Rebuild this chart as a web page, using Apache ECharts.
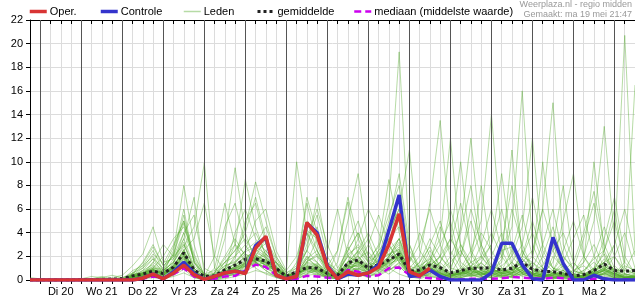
<!DOCTYPE html>
<html><head><meta charset="utf-8">
<script src="https://cdn.jsdelivr.net/npm/echarts@6/dist/echarts.min.js"></script>
<style>html,body{margin:0;padding:0;background:#fff}#c{width:635px;height:300px}</style>
</head><body><div id="c"></div>
<script>
// time steps: every 6 hours, starting ma 19 mei 18:00
const stepHours = 6;
const dayLabels = ['Di 20','Wo 21','Do 22','Vr 23','Za 24','Zo 25','Ma 26','Di 27','Wo 28','Do 29','Vr 30','Za 31','Zo 1','Ma 2'];
const yTicks = [0,2,4,6,8,10,12,14,16,18,20,22];

const oper = [0,0,0,0,0,0,0,0,0,0, 0,0.15,0.5,0.1,0.6,1.25,0.45,0.05,0.3,0.6, 0.75,0.55,2.7,3.7,0.4,0.1,0.3,4.85,3.8,1.1, 0.1,0.7,0.4,0.6,1.1,3.0,5.6,0.7,0.35,1.0];
const controle = [0,0,0,0,0,0,0,0,0,0, 0,0.15,0.5,0.1,0.7,1.5,0.55,0.05,0.3,0.6, 0.75,0.6,2.9,3.6,0.4,0.1,0.3,4.8,4.0,1.2, 0.1,0.5,0.4,0.6,1.3,4.2,7.2,0.3,0.4,0.85, 0.3,0,0,0,0,0.6,3.1,3.1,1.3,0.1, 0,3.6,1.4,0,0,0.4,0.1,0,0,0];
const gemiddelde = [0,0,0,0,0,0.02,0.03,0.05,0.08,0.1, 0.35,0.5,0.75,0.55,1.1,2.3,0.85,0.3,0.35,0.85, 1.25,1.75,1.8,1.6,1.0,0.3,0.7,1.05,1.0,0.55, 0.4,1.45,1.7,1.0,1.3,1.7,2.2,0.75,0.85,1.27, 1.05,0.6,0.8,1.0,1.0,1.05,0.85,1.0,1.5,0.9, 0.75,0.7,0.55,0.35,0.45,0.8,1.35,0.8,0.75,0.8];
const mediaan = [0,0,0,0,0,0,0,0,0,0, 0,0.1,0.3,0.2,0.5,1.0,0.3,0.05,0.1,0.3, 0.35,0.8,1.3,1.1,0.4,0.05,0.1,0.35,0.3,0.2, 0.1,0.85,0.7,0.3,0.4,1.0,1.05,0.45,0.25,0.15, 0.1,0.05,0.05,0.1,0.1,0.1,0.15,0.25,0.2,0.15, 0.1,0.2,0.15,0.05,0.05,0.1,0.1,0.05,0.05,0.05];

const leden = [
[0,0,0,0,0,0,0,0,0,0, 0.2,0.4,0.6,0.1,0.8,1.6,0.5,0,0.2,0.7, 0.9,0.6,2.4,3.1,0.6,0.1,0.4,4.2,3.5,1.0, 0.2,0.8,0.6,0.5,1.2,3.5,5.0,0.6,0.4,1.1, 0.5,0.1,0.3,0.8,0.4,0.6,2.5,2.8,1.0,0.2, 0.1,2.0,1.1,0.2,0.1,0.3,0.5,0.2,0,0.1],
[0,0,0,0,0,0,0,0,0.1,0.2, 0.6,1.0,1.8,0.5,2.5,8.0,3.0,0.2,0.1,0.5, 1.2,2.0,1.5,0.8,0.3,0,0.2,1.5,2.2,0.8, 0.3,2.5,4.0,1.5,0.6,1.2,2.0,0.3,0.8,2.5, 1.2,0.4,0.2,0.5,1.5,0.6,0.2,0.3,0.8,0.5, 0.2,0.1,0.4,0.8,1.2,0.5,0.2,0,0,0.2],
[0.2,0.1,0,0,0,0,0,0,0,0, 0.2,0.3,0.5,0.8,1.5,2.8,4.5,9.9,1.0,0.3, 0.5,1.2,2.5,1.8,0.5,0.2,0.6,1.0,0.8,0.3, 0.1,0.5,1.2,0.6,2.2,3.0,1.5,0.4,0.2,0.6, 0.8,1.5,2.5,1.0,0.3,0.2,0.5,1.2,0.6,0.4, 1.0,0.6,0.3,0.1,0.2,0.8,1.5,0.6,0.2,0.1],
[0,0,0,0,0,0,0.1,0.3,0.1,0, 0,0.1,0.4,0.2,0.6,1.2,0.3,0,0.5,3.5, 9.5,4.0,1.5,0.8,0.2,0,0.1,0.5,1.2,0.6, 0.2,1.0,2.2,3.5,1.0,0.5,1.2,0.3,0.1,0.4, 0.2,0,0.5,1.5,2.0,0.8,0.3,0.2,0.6,1.5, 0.8,0.3,0.1,0,0,0.2,0.6,1.0,0.3,0.1],
[0,0,0,0,0,0,0,0,0,0, 0.5,1.2,2.0,0.8,1.0,2.5,0.6,0.1,0.2,1.0, 3.0,8.5,4.5,2.0,0.8,0.2,0.3,1.2,0.8,0.2, 0.1,0.3,0.5,0.2,0.8,1.5,2.5,1.0,0.5,0.3, 0.1,0,0.2,0.4,0.2,1.2,0.8,0.4,2.5,1.0, 0.3,0.2,0.5,0.3,0.8,1.5,0.6,0.2,0,0],
[0,0,0,0,0,0,0,0,0,0, 0.1,0.3,0.8,0.4,1.2,2.0,0.5,0,0.1,0.4, 0.6,1.5,2.0,3.5,1.5,0.8,10.0,4.0,2.5,0.5, 0.3,1.2,0.8,0.4,0.6,1.0,1.8,0.6,1.5,2.8, 1.0,0.5,0.8,0.3,0.6,0.2,0.4,0.8,1.2,0.6, 0.4,0.1,0.2,0.5,0.3,0.6,1.8,0.8,0.2,0.3],
[0,0,0,0,0,0,0,0,0,0, 0,0.2,0.5,0.3,0.5,1.5,0.4,0,0,0.3, 0.5,0.8,1.2,1.5,0.6,0.1,0.3,2.0,1.5,0.4, 0.2,1.5,2.0,1.0,2.5,6.5,19.3,3.0,0.5,1.0, 0.6,0.2,0.4,0.8,0.5,0.3,0.6,0.2,0.4,0.8, 0.5,0.2,0.1,0.2,0.5,0.8,0.4,0.2,0.1,0],
[0,0,0,0,0,0,0,0,0,0, 0.3,0.5,1.0,0.6,0.8,2.2,0.8,0.1,0.3,0.8, 1.0,1.8,2.6,2.0,1.0,0.3,0.5,1.2,0.6,0.2, 0.5,2.8,1.5,0.8,1.8,4.0,6.0,11.0,2.5,1.2, 2.0,0.8,0.5,1.2,0.6,0.3,0.8,1.5,0.5,0.2, 0.3,0.6,1.2,0.4,0.2,0.5,0.8,0.4,0.2,0.5],
[0,0,0,0,0,0,0,0,0,0, 0.4,0.6,0.9,0.5,1.0,1.8,0.6,0,0.2,0.6, 0.8,1.2,1.8,1.2,0.8,0.2,0.2,0.8,0.5,0.3, 0.6,1.5,2.4,1.2,0.8,2.0,3.2,1.0,2.0,6.5, 13.5,4.0,1.2,0.5,0.2,0.6,1.0,0.4,0.8,1.5, 0.5,0.2,0.4,0.2,0.1,0.3,0.5,1.2,0.4,0.2],
[0,0,0,0,0,0,0,0,0,0, 0.1,0.2,0.4,0.2,0.6,1.2,0.3,0,0.1,0.3, 0.6,1.0,1.5,1.0,0.5,0.1,0.3,1.0,1.4,0.8, 0.4,0.6,0.9,1.5,2.2,3.5,2.2,0.8,0.6,1.8, 3.5,12.0,2.5,1.0,0.6,0.4,0.2,0.6,1.0,0.5, 0.2,0.4,0.8,0.2,0.4,1.0,2.2,0.6,0.2,0.1],
[0,0,0,0,0,0,0,0,0,0, 0.2,0.5,0.7,0.3,1.2,2.5,0.8,0.1,0.2,0.6, 1.5,2.2,1.8,1.2,1.5,0.4,0.6,0.8,0.4,0.2, 0.1,0.6,1.8,2.4,1.2,0.8,1.5,0.5,0.3,0.8, 1.5,0.6,4.5,12.0,3.0,0.8,0.4,0.6,1.8,0.8, 0.3,0.5,0.2,0.1,0.3,0.6,1.0,0.5,0.2,0.4],
[0,0,0,0,0,0,0,0,0,0, 0.3,0.4,0.6,0.8,1.5,3.0,1.0,0.2,0.4,0.9, 1.4,2.5,3.2,2.5,1.2,0.3,0.5,1.4,1.2,0.6, 0.3,0.8,1.4,0.6,0.4,0.8,1.4,0.4,0.6,0.3, 0.2,0.5,1.0,2.5,5.0,14.0,3.5,1.2,0.6,0.4, 0.2,0.8,0.4,0.2,0.1,0.4,0.8,0.3,0.1,0.2],
[0,0,0,0,0,0,0,0,0,0, 0.1,0.2,0.5,0.4,0.8,1.4,0.4,0,0.1,0.4, 0.7,1.4,1.6,2.2,0.9,0.2,0.4,0.6,0.8,0.3, 0.2,1.2,0.8,0.5,0.9,1.6,2.4,0.6,0.8,1.4, 0.6,0.3,0.8,1.0,0.6,1.2,2.0,4.5,16.0,3.0, 1.0,0.5,0.3,0.2,0.4,0.6,0.3,0.2,0.5,0.3],
[0,0,0,0,0,0,0,0,0,0, 0.4,0.7,1.1,0.6,1.0,2.0,0.6,0.1,0.3,0.8, 1.1,1.6,2.2,1.5,1.2,0.4,0.2,0.5,0.8,0.5, 0.4,2.2,2.8,1.5,0.7,1.2,2.0,0.5,0.4,0.8, 0.5,0.3,0.6,0.4,0.8,1.0,0.5,0.8,1.5,2.5, 6.0,15.0,3.0,0.8,0.5,0.3,0.6,0.2,0.1,0.2],
[0,0,0,0,0,0,0,0,0,0, 0,0.1,0.3,0.1,0.4,0.9,0.2,0,0,0.2, 0.5,0.9,1.4,1.1,0.6,0.1,0.2,0.7,0.9,0.4, 0.2,0.9,1.6,0.9,1.2,1.8,2.8,0.7,0.5,1.2, 0.8,0.4,0.5,0.6,0.8,0.5,0.3,0.5,1.0,0.6, 0.4,0.5,0.8,0.6,2.0,5.0,13.0,3.5,0.5,0.3],
[0,0,0,0,0,0,0,0,0,0, 0.2,0.3,0.5,0.3,0.6,1.3,0.4,0,0.2,0.5, 0.8,1.2,1.9,1.4,0.7,0.2,0.4,1.1,0.7,0.3, 0.3,1.4,1.1,0.6,1.0,1.4,1.7,0.5,0.6,0.9, 0.6,0.2,0.3,0.5,0.8,0.6,0.4,0.3,0.8,0.4, 0.3,0.2,0.4,0.3,0.2,0.4,0.8,3.0,20.7,2.5],
[0,0,0,0,0,0,0,0,0,0, 0.3,0.5,0.8,0.5,0.9,1.8,0.7,0.1,0.2,0.5, 0.9,1.3,1.7,1.3,0.9,0.3,0.5,0.9,0.6,0.2, 0.2,0.6,0.9,0.7,1.5,2.2,1.8,0.4,0.9,1.6, 1.2,0.6,0.4,0.3,0.5,0.9,0.6,0.4,0.5,0.3, 0.2,0.6,0.5,0.2,0.3,0.8,1.2,0.5,1.5,16.5],
[0,0,0,0,0,0,0,0,0.1,0.2, 0.4,0.8,1.3,0.7,1.2,2.4,0.9,0.1,0.2,0.7, 1.0,1.4,2.0,1.6,0.8,0.3,0.6,1.8,1.2,0.4, 1.5,5.0,9.0,3.0,1.5,1.0,2.2,0.6,0.4,0.6, 0.4,0.2,0.6,0.8,1.2,0.6,0.3,0.6,0.8,0.3, 0.5,0.3,0.2,0.1,0.2,0.6,0.9,0.4,0.2,0.3],
[0,0,0,0,0,0,0,0,0,0, 0.2,0.4,0.9,0.4,0.9,1.9,0.5,0,0.1,0.5, 0.8,1.2,1.4,1.0,0.9,0.3,0.4,0.9,1.1,0.5, 0.2,0.7,1.0,0.6,1.1,1.5,2.0,0.6,0.8,1.3, 0.8,0.4,0.6,0.9,1.1,0.6,1.8,11.0,2.0,1.5, 10.0,2.5,0.8,0.3,0.2,0.5,0.7,0.3,0.1,0.2],
[0,0,0,0,0,0,0,0,0,0, 0.3,0.5,0.6,0.4,1.1,2.6,0.7,0.1,0.3,0.6, 1.2,1.9,2.1,1.7,1.1,0.4,0.3,0.9,0.7,0.3, 0.3,0.9,1.3,0.9,1.4,1.9,2.6,0.8,0.7,1.0, 0.5,0.3,0.8,1.5,8.0,2.0,0.6,0.4,0.6,0.5, 0.3,0.4,0.6,0.4,1.5,10.0,2.5,0.6,0.2,0.4],
[0,0,0,0,0,0,0,0,0.2,0.4, 1.2,2.2,4.5,1.5,1.8,3.2,1.0,0.1,0.4,1.2, 1.6,2.4,2.8,2.2,1.4,0.3,0.5,1.3,1.0,0.5, 0.3,1.0,1.6,1.1,0.9,1.4,2.2,0.5,0.6,0.9, 0.5,0.3,0.6,0.9,0.7,0.5,0.8,0.6,1.2,0.6, 0.4,0.2,0.3,0.4,0.3,0.5,1.1,0.8,0.3,0.2],
[0,0,0,0,0,0,0,0,0,0, 0.5,0.6,1.0,0.9,2.2,6.0,1.5,0.2,0.3,0.9, 1.3,2.0,2.3,1.9,1.0,0.3,0.6,1.5,1.3,0.6, 0.4,1.6,1.4,0.8,1.3,2.5,3.5,0.9,1.2,1.8, 1.0,0.5,0.4,0.6,0.4,0.8,0.6,1.0,1.4,0.8, 1.2,3.0,8.0,1.5,0.4,0.3,0.6,0.4,0.2,0.3],
[0,0,0,0,0,0,0,0,0,0, 0.2,0.3,0.7,0.5,1.4,3.5,7.0,0.4,0.2,0.6, 0.9,1.5,1.8,1.4,0.8,0.2,0.4,1.1,0.9,0.4, 0.2,1.1,1.2,0.7,1.0,1.7,2.0,0.6,0.7,1.1, 0.7,0.3,0.5,0.7,0.6,0.9,0.5,0.7,1.8,1.0, 0.6,0.4,0.3,0.2,0.4,0.7,1.4,0.6,0.3,0.2],
[0,0,0,0,0,0,0,0,0,0, 0.4,0.6,0.8,0.5,1.0,2.1,0.5,0,0.3,1.5, 2.5,4.0,7.0,3.5,1.8,0.4,1.0,6.5,3.0,0.8, 0.3,0.8,1.0,0.5,0.8,1.3,1.9,0.7,0.5,0.8, 0.6,0.4,0.7,0.5,0.4,0.7,0.9,0.5,0.7,0.4, 0.3,0.6,0.4,0.2,0.3,0.6,1.0,0.5,0.2,0.3],
[0,0,0,0,0,0,0,0,0,0, 0.1,0.3,0.6,0.3,0.7,1.6,0.5,0,0.1,0.4, 0.7,1.1,1.6,1.5,1.0,0.3,0.5,1.6,2.0,1.2, 2.5,7.0,3.5,1.5,3.0,8.5,4.0,1.2,0.8,1.5, 0.9,0.4,0.6,0.8,0.6,0.4,0.7,0.9,1.1,0.5, 0.3,0.4,0.6,0.3,0.2,0.5,0.8,0.4,0.1,0.2],
[0,0,0,0,0,0,0,0,0,0, 0,0.1,0.2,0.1,0.3,0.6,0.2,0,0,0.1, 0.3,0.5,0.8,0.6,0.3,0.1,0.1,0.4,0.5,0.2, 0.1,0.4,0.6,0.3,0.5,0.9,1.2,0.3,0.2,0.5, 0.3,0.1,0.2,0.4,0.3,0.2,0.4,0.3,0.5,0.3, 0.2,0.1,0.2,0.1,0.1,0.3,0.5,0.3,0.1,0.1],
[0,0,0,0,0,0,0,0,0,0, 0.3,0.4,0.7,0.4,0.9,1.7,0.6,0.1,0.3,0.7, 1.0,1.4,1.7,1.6,1.1,0.4,0.5,1.0,0.9,0.4, 0.4,1.3,1.7,1.2,1.6,2.2,2.6,0.9,0.8,1.2, 2.0,3.5,10.0,2.2,0.8,0.5,0.6,0.8,0.9,0.6, 0.4,0.5,0.6,0.5,0.8,1.8,2.5,6.0,1.0,0.5],
[0,0,0,0,0,0,0,0,0,0, 0.2,0.4,0.8,0.6,1.3,2.3,0.8,0.1,0.2,0.5, 0.9,1.3,1.5,1.3,1.0,0.3,0.3,1.2,1.0,0.5, 0.3,1.0,1.3,0.8,1.1,1.6,2.3,0.7,0.9,1.4, 0.9,0.5,0.7,1.2,1.8,3.0,9.0,2.5,1.0,0.6, 0.5,0.3,0.4,0.3,0.2,0.4,0.9,0.5,0.2,0.3],
[0,0,0,0,0,0,0,0,0,0, 0.3,0.5,0.9,0.5,1.0,2.0,0.7,0.1,0.3,0.7, 1.1,1.6,1.9,1.5,1.1,0.3,0.4,1.1,1.2,0.5, 0.3,1.2,1.5,1.0,1.2,1.7,2.1,0.6,0.8,1.0, 0.7,0.4,0.6,1.0,1.4,0.8,1.2,2.0,4.5,12.0, 2.5,1.0,0.6,0.3,0.4,0.6,0.9,0.5,0.2,0.2],
[0,0,0,0,0,0,0,0,0,0, 0.3,0.6,0.9,0.6,1.1,2.2,0.6,0,0.2,0.6, 1.0,1.5,2.0,1.7,1.0,0.3,0.6,2.5,7.0,2.5, 6.0,2.0,1.5,0.8,1.0,1.5,2.4,0.6,0.7,1.0, 0.6,0.3,0.5,0.7,0.5,0.6,0.8,0.6,0.9,0.5, 0.3,0.4,0.5,0.3,0.4,0.7,1.2,0.6,0.2,0.3],
[0,0,0,0,0,0,0,0,0,0, 0.5,1.5,3.0,1.2,2.0,5.5,1.5,0.2,0.6,2.0, 3.5,2.0,1.0,0.5,0.2,0,0.5,3.0,5.5,2.0, 0.5,1.0,2.5,4.0,2.0,1.0,0.5,0.2,1.0,3.0, 5.0,2.0,0.5,1.0,3.0,6.0,2.5,0.8,0.3,0.5, 2.0,4.5,1.5,0.5,0.3,1.0,3.5,7.0,2.0,0.5],
[0,0,0,0,0,0,0,0.2,0.4,0.2, 0.3,0.6,1.0,2.0,3.5,4.5,2.0,0.5,0.3,0.8, 2.0,5.0,6.5,3.0,1.0,0.3,0.8,2.0,1.0,0.4, 2.5,6.6,2.0,0.8,1.5,3.0,7.0,2.0,0.5,0.8, 2.0,6.0,3.0,1.0,0.4,0.8,1.5,6.0,3.0,1.0, 0.5,1.5,5.0,9.0,2.0,0.5,0.8,2.0,4.0,1.0],
[0,0,0,0,0,0,0,0,0,0, 0.8,1.2,2.5,0.8,1.5,4.0,5.5,1.0,0.5,1.5, 2.5,3.5,2.0,1.2,0.8,0.2,1.5,4.0,2.0,0.6, 0.3,1.5,3.5,6.0,4.0,2.0,3.5,1.0,0.3,0.5, 1.5,3.0,6.5,2.5,1.0,0.5,3.0,8.0,2.5,0.8, 0.5,0.8,2.0,1.0,3.5,6.5,2.0,0.8,0.3,0.8],
[0,0,0,0,0,0.1,0.3,0.2,0,0, 0.2,0.4,1.5,3.0,2.0,3.0,1.0,0.2,1.0,4.5, 6.5,3.0,1.5,2.5,1.5,0.5,0.5,1.5,3.5,1.5, 0.8,2.0,1.5,1.0,2.0,5.0,9.0,3.0,1.0,2.0, 1.0,0.5,2.0,5.0,2.0,1.0,0.6,1.5,3.0,7.0, 3.0,1.0,0.5,0.8,1.5,3.0,1.0,0.5,0.8,2.5],
[0,0,0,0,0,0,0,0,0,0, 0.3,0.8,1.8,1.0,2.8,5.0,2.2,0.4,0.2,1.0, 1.8,4.5,8.3,5.0,2.0,0.6,1.0,2.5,1.5,0.6, 0.4,1.2,2.0,1.2,2.5,3.5,4.5,1.5,3.0,6.0, 3.0,1.0,0.8,2.0,4.0,2.5,1.0,0.6,1.2,2.0, 6.0,3.0,1.0,0.4,0.6,2.0,4.5,2.0,0.5,0.4],
[0,0,0,0,0,0,0,0,0,0, 0.1,0.3,0.8,0.5,1.8,3.5,1.2,0.3,2.0,6.5, 3.0,1.5,3.0,4.5,2.0,0.6,1.2,7.0,4.0,1.5, 0.5,3.0,5.0,2.0,1.0,2.0,3.0,0.8,0.5,1.5, 4.5,2.5,1.0,0.5,1.5,3.0,6.0,2.0,1.0,0.5, 0.8,2.5,4.0,1.5,0.5,1.0,1.5,3.0,6.0,2.0],
[0,0,0,0,0,0,0,0,0,0, 0.4,1.0,2.2,1.4,3.0,5.0,1.5,0.5,0.8,1.5, 2.0,3.0,4.0,2.2,1.5,0.4,0.6,1.8,2.5,1.0, 0.6,2.0,3.0,1.8,2.8,5.5,8.0,2.5,1.0,0.8, 1.5,3.5,2.0,6.0,3.0,1.2,0.8,2.5,5.5,2.0, 1.0,0.6,1.5,3.5,5.5,2.0,0.8,0.5,1.2,0.8],
[0,0,0,0,0,0,0,0,0,0, 0.2,0.5,1.2,0.6,1.2,2.5,3.5,6.5,2.0,0.8, 4.0,6.0,3.5,1.8,0.8,0.3,0.8,2.5,4.5,1.5, 0.4,0.8,1.5,3.0,5.5,3.0,1.5,0.8,1.5,3.5, 2.0,1.0,3.0,1.5,0.8,2.0,4.0,1.5,0.6,1.0, 3.0,6.0,2.0,0.8,0.5,0.8,2.5,5.0,1.5,0.6],
[0,0,0,0,0,0,0,0,0,0, 0.6,1.4,2.8,1.2,2.0,4.0,1.8,0.3,0.5,1.2, 1.5,2.5,5.0,6.0,2.5,0.8,2.0,5.0,2.5,0.8, 0.5,1.5,2.5,1.5,1.2,2.0,3.5,1.5,4.0,2.0, 0.8,2.0,4.0,8.0,2.5,1.0,0.5,1.0,2.0,4.0, 1.5,0.8,2.5,5.0,2.0,0.8,1.5,2.0,0.8,0.5],
[0,0,0,0,0,0,0,0,0,0, 0.3,0.6,1.5,0.8,2.2,4.8,1.6,0.4,0.6,1.8, 3.0,2.2,1.5,1.0,0.6,0.2,0.8,3.5,6.0,3.0, 1.0,2.5,4.0,2.0,1.5,4.0,6.0,2.0,1.0,1.5, 3.0,5.0,1.5,0.8,2.0,4.0,2.0,0.8,2.0,5.0, 2.0,1.0,0.8,1.5,4.0,7.5,3.0,1.0,0.5,1.0]
];

const FONT = 'Liberation Sans, Arial, sans-serif';
const toPairs = arr => arr.map((v, i) => [i * stepHours, v]);
const firstNoon = 18;      // hours after start -> di 20 mei 12:00
const firstMidnight = 6;   // hours after start -> di 20 mei 00:00
const xMax = 354;

const chart = echarts.init(document.getElementById('c'), null, {renderer: 'canvas'});

const series = [];
const midnights = [];
for (let k = 0; k <= dayLabels.length; k++) midnights.push({xAxis: firstMidnight + 24 * k});
series.push({
  name: 'dag', type: 'line', data: [], symbol: 'none', silent: true, z: 1,
  markLine: {silent: true, symbol: 'none', label: {show: false}, animation: false,
    lineStyle: {color: '#555', width: 1, type: 'solid'}, data: midnights}
});
leden.forEach(m => {
  series.push({
    name: 'Leden', type: 'line', data: toPairs(m), symbol: 'none', silent: true,
    lineStyle: {color: 'rgba(80,170,40,0.42)', width: 1}, itemStyle: {color: 'rgba(140,200,110,0.8)'},
    z: 2
  });
});
series.push({name: 'mediaan (middelste waarde)', type: 'line', data: toPairs(mediaan), symbol: 'none', z: 3,
  lineStyle: {color: '#cc00ee', width: 2.5, type: [7, 4]}, itemStyle: {color: '#cc00ee'}});
series.push({name: 'gemiddelde', type: 'line', data: toPairs(gemiddelde), symbol: 'none', z: 4,
  lineStyle: {color: '#222', width: 3, type: [3, 3]}, itemStyle: {color: '#222'}});
series.push({name: 'Controle', type: 'line', data: toPairs(controle), symbol: 'none', z: 5,
  lineStyle: {color: '#3434cc', width: 3.5}, itemStyle: {color: '#3434cc'}});
series.push({name: 'Oper.', type: 'line', data: toPairs(oper), symbol: 'none', z: 6,
  lineStyle: {color: '#d83434', width: 3.5}, itemStyle: {color: '#d83434'}});

const legendBase = {top: 6, itemWidth: 17, itemHeight: 10, itemGap: 0, selectedMode: false,
  itemStyle: {opacity: 0},
  textStyle: {fontFamily: FONT, fontSize: 11, color: '#000', padding: [0, 0, 0, -2]}, padding: 0};
const legendItems = [['Oper.', 28, 3.5], ['Controle', 99, 3.5], ['Leden', 183, 1.5], ['gemiddelde', 256, 3], ['mediaan (middelste waarde)', 353, 2.5]];

chart.setOption({
  animation: false,
  backgroundColor: '#fff',
  grid: {left: 30, right: 0, top: 20, bottom: 20, containLabel: false},
  legend: legendItems.map(([n, x, w]) => Object.assign({}, legendBase, {data: [n], left: x, lineStyle: {width: w}})),
  graphic: [
    {type: 'text', right: 3, top: 0, style: {text: 'Weerplaza.nl - regio midden', fontFamily: FONT, fontSize: 9, fill: '#999'}},
    {type: 'text', right: 3, top: 10, style: {text: 'Gemaakt: ma 19 mei 21:47', fontFamily: FONT, fontSize: 9, fill: '#999'}}
  ],
  xAxis: [
    {type: 'value', position: 'bottom', min: 0, max: xMax, interval: stepHours,
      axisLine: {show: true, onZero: false, lineStyle: {color: '#000', width: 1}},
      axisTick: {show: true, length: 4, lineStyle: {color: '#000'}},
      axisLabel: {interval: 0, showMinLabel: false, showMaxLabel: false, fontFamily: FONT, fontSize: 11, color: '#000', margin: 6,
        formatter: v => ((v - firstNoon) % 24 === 0 && v >= firstNoon) ? (dayLabels[(v - firstNoon) / 24] || '') : ''},
      splitLine: {show: true, lineStyle: {color: '#dcdcdc', width: 1}}},
    {type: 'value', position: 'top', min: 0, max: xMax, interval: stepHours,
      axisLine: {show: true, onZero: false, lineStyle: {color: '#000', width: 1}},
      axisTick: {show: true, inside: true, length: 4, lineStyle: {color: '#000'}},
      axisLabel: {show: false}, splitLine: {show: false}}
  ],
  yAxis: {type: 'value', min: yTicks[0], max: yTicks[yTicks.length - 1], interval: 2,
    axisLine: {show: true, onZero: false, lineStyle: {color: '#000', width: 1}},
    axisTick: {show: true, length: 4, lineStyle: {color: '#000'}},
    axisLabel: {fontFamily: FONT, fontSize: 11, color: '#000', margin: 7},
    splitLine: {show: true, lineStyle: {color: '#dcdcdc', width: 1}}},
  series: series
});
</script>
</body></html>
